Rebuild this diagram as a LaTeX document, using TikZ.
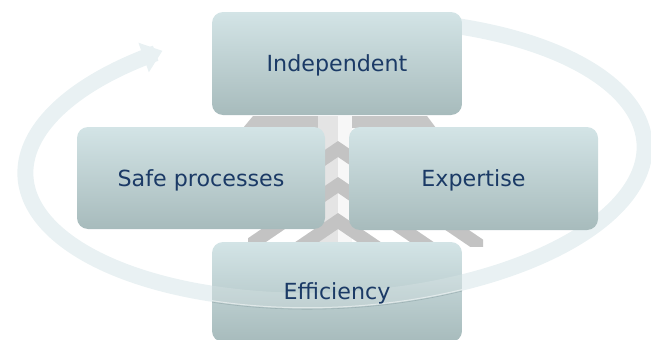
\documentclass[tikz,border=0pt]{standalone}
\usepackage{fontspec}
\setmainfont{DejaVu Sans}
\usetikzlibrary{arrows.meta}
\definecolor{ringc}{HTML}{E9F1F3}
\definecolor{ringedge}{HTML}{93A8AB}
\definecolor{boxtop}{HTML}{D3E4E6}
\definecolor{boxmid}{HTML}{C6D8DA}
\definecolor{boxbot}{HTML}{A7BBBC}
\definecolor{txt}{HTML}{1B3A66}
\definecolor{chev}{HTML}{C3C3C3}
\definecolor{bandc}{HTML}{C6C6C6}
\definecolor{colL}{HTML}{E4E4E4}
\definecolor{colR}{HTML}{F7F7F7}
\begin{document}
\begin{tikzpicture}[x=1pt,y=-1pt,
  card/.style={rounded corners=11pt, top color=boxtop, middle color=boxmid, bottom color=boxbot,
    draw=none, inner sep=0pt},
  lbl/.style={text=txt, font=\fontsize{22.2}{27}\selectfont, inner sep=0pt,
    text height=16pt, text depth=0pt},
  ringline/.style={ringc, line width=16pt}]
\useasboundingbox (0,0) rectangle (651,340);
\clip (0,0) rectangle (651,340);
% circular arrow (back part)
\draw[ringline, -{Triangle[length=20pt,width=30pt]}] plot[domain=-70:237.5, samples=200]
  ({335+310*cos(\x)*cos(3)+140*sin(\x)*sin(3)},{160-310*cos(\x)*sin(3)+140*sin(\x)*cos(3)});
% background chevron stack
\fill[bandc] (253,116) -- (427,116) -- (436,128) -- (243,128) -- cycle;
\fill[colL] (318,116) rectangle (338,246);
\fill[colR] (338,116) rectangle (352,246);
\begin{scope}
  \clip (246,100) rectangle (492,246);
  \foreach \a in {141,177,213} {
    \fill[chev] (248,{\a+61.2}) -- (338,\a) -- (483,{\a+98.6}) -- (483,{\a+114.6})
      -- (338,{\a+16}) -- (248,{\a+77.2}) -- cycle;
  }
\end{scope}
% boxes
\node[card, minimum width=250pt, minimum height=103pt] (ind) at (337,63.5) {};
\node[card, minimum width=248pt, minimum height=102pt] (safe) at (201,178) {};
\node[card, minimum width=249pt, minimum height=103pt] (exp) at (473.5,178.5) {};
\node[card, minimum width=250pt, minimum height=100pt] (eff) at (337,292) {};
% front part of ring over Efficiency
\begin{scope}
  \clip[rounded corners=11pt] (212,242) rectangle (462,345);
  \draw[white, opacity=0.15, line width=16pt] plot[domain=10:170, samples=60, smooth]
    ({335+310*cos(\x)*cos(3)+140*sin(\x)*sin(3)},{160-310*cos(\x)*sin(3)+140*sin(\x)*cos(3)});
  \draw[white, line width=1pt, opacity=0.5] plot[domain=10:170, samples=60, smooth]
    ({335+317*cos(\x)*cos(3)+147*sin(\x)*sin(3)},{160-317*cos(\x)*sin(3)+147*sin(\x)*cos(3)});
  \draw[ringedge, line width=0.6pt, opacity=0.7] plot[domain=10:170, samples=60, smooth]
    ({335+318.5*cos(\x)*cos(3)+148.5*sin(\x)*sin(3)},{160-318.5*cos(\x)*sin(3)+148.5*sin(\x)*cos(3)});
\end{scope}
% labels
\node[lbl] (tind) at (ind.center) {Independent};
\node[lbl] (tsafe) at (safe.center) {Safe processes};
\node[lbl] (texp) at (exp.center) {Expertise};
\node[lbl] (teff) at ([yshift=1pt]eff.center) {Efficiency};
\end{tikzpicture}
\end{document}
